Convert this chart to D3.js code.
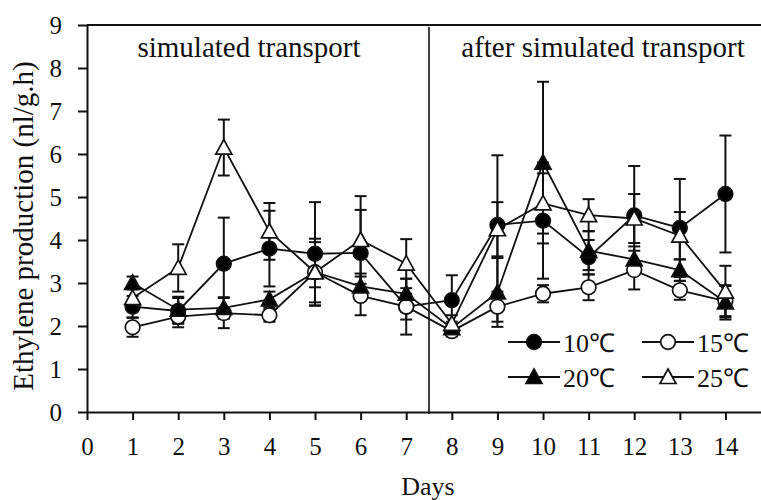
<!DOCTYPE html>
<html>
<head>
<meta charset="utf-8">
<script src="https://d3js.org/d3.v7.min.js"></script>
<style>
    html, body { margin: 0; padding: 0; background: white; }
    svg { display: block; font-family: "Liberation Serif", "Times New Roman", serif; }
    text { fill: #111; }
</style>
</head>
<body>
<svg id="chart" width="761" height="500"></svg>
<script>
    // days 1..14
    var days = [1, 2, 3, 4, 5, 6, 7, 8, 9, 10, 11, 12, 13, 14];
    var xTicks = [0, 1, 2, 3, 4, 5, 6, 7, 8, 9, 10, 11, 12, 13, 14];
    var yTicks = [0, 1, 2, 3, 4, 5, 6, 7, 8, 9];

    var t10 = [2.45, 2.35, 3.45, 3.80, 3.68, 3.70, 2.45, 2.60, 4.35, 4.45, 3.60, 4.57, 4.28, 5.07];
    var t10err = [0.25, 0.30, 1.07, 0.88, 1.20, 1.00, 0.65, 0.58, 1.62, 1.35, 0.40, 1.15, 1.14, 1.36];
    var t15 = [1.97, 2.22, 2.30, 2.25, 3.25, 2.70, 2.45, 1.88, 2.45, 2.75, 2.90, 3.30, 2.83, 2.58];
    var t15err = [0.22, 0.25, 0.35, 0.15, 0.35, 0.45, 0.30, 0.12, 0.35, 0.20, 0.30, 0.45, 0.22, 0.35];
    var t20 = [3.00, 2.38, 2.42, 2.62, 3.25, 2.92, 2.75, 1.95, 2.78, 5.80, 3.75, 3.55, 3.30, 2.55];
    var t20err = [0.15, 0.30, 0.25, 0.18, 0.78, 0.30, 0.35, 0.15, 0.80, 1.88, 0.45, 0.30, 0.25, 0.40];
    var t25 = [2.65, 3.35, 6.15, 4.20, 3.25, 4.00, 3.45, 2.05, 4.25, 4.85, 4.58, 4.50, 4.10, 2.80];
    var t25err = [0.25, 0.55, 0.65, 0.66, 0.70, 1.02, 0.57, 0.20, 0.63, 0.70, 0.37, 0.57, 0.55, 0.60];

    var seriesNames = ["10\u2103", "15\u2103", "20\u2103", "25\u2103"];
    var series = [
        {name: seriesNames[0], vals: t10, err: t10err, shape: "circle", fill: "black"},
        {name: seriesNames[1], vals: t15, err: t15err, shape: "circle", fill: "white"},
        {name: seriesNames[2], vals: t20, err: t20err, shape: "triangle", fill: "black"},
        {name: seriesNames[3], vals: t25, err: t25err, shape: "triangle", fill: "white"}
    ];

    var svg = d3.select("#chart");
    var plotLeft = 87, plotRight = 761, plotTop = 25, plotBottom = 412;

    var x = d3.scaleLinear().domain([0, 14.78]).range([plotLeft, plotRight]);
    var y = d3.scaleLinear().domain([0, 9]).range([plotBottom, plotTop]);

    // top border line
    svg.append("line")
        .attr("x1", plotLeft).attr("x2", plotRight)
        .attr("y1", y(9)).attr("y2", y(9))
        .attr("stroke", "#111").attr("stroke-width", 2);

    // axes
    var xAxis = svg.append("g")
        .attr("transform", "translate(0," + plotBottom + ")")
        .call(d3.axisBottom(x).tickValues(xTicks).tickSize(8).tickSizeOuter(0));
    var yAxis = svg.append("g")
        .attr("transform", "translate(" + plotLeft + ",0)")
        .call(d3.axisLeft(y).tickValues(yTicks).tickSize(9).tickPadding(16).tickSizeOuter(0));

    [xAxis, yAxis].forEach(function (a) {
        a.attr("font-family", "'Liberation Serif', serif");
        a.select(".domain").attr("stroke", "#111").attr("stroke-width", 2);
        a.selectAll(".tick line").attr("stroke", "#111").attr("stroke-width", 2);
        a.selectAll(".tick text")
            .attr("font-size", 25).attr("fill", "#111");
    });
    xAxis.selectAll(".tick text").attr("y", 43).attr("dy", 0);
    yAxis.selectAll(".tick text").attr("dy", "0.34em");

    // divider between periods
    svg.append("line")
        .attr("x1", x(7.5)).attr("x2", x(7.5))
        .attr("y1", y(9) + 2).attr("y2", plotBottom + 2)
        .attr("stroke", "#111").attr("stroke-width", 1.6);

    // period titles
    svg.append("text").attr("x", 249).attr("y", 57)
        .attr("text-anchor", "middle").attr("font-size", 29)
        .text("simulated transport");
    svg.append("text").attr("x", 603).attr("y", 57)
        .attr("text-anchor", "middle").attr("font-size", 29)
        .text("after simulated transport");

    // axis titles
    svg.append("text").attr("x", 428).attr("y", 495)
        .attr("text-anchor", "middle").attr("font-size", 26)
        .text("Days");
    svg.append("text")
        .attr("transform", "translate(33,226) rotate(-90)")
        .attr("text-anchor", "middle").attr("font-size", 29)
        .text("Ethylene production (nl/g.h)");

    var line = d3.line()
        .x(function (d, i) { return x(days[i]); })
        .y(function (d) { return y(d); });

    function drawMarker (g, shape, fill) {
        if (shape === "circle") {
            g.append("circle").attr("r", 7.3)
                .attr("fill", fill).attr("stroke", "#111").attr("stroke-width", 1.7);
        } else {
            g.append("path").attr("d", "M0,-8 L8,6.5 L-8,6.5 Z")
                .attr("fill", fill).attr("stroke", "#111").attr("stroke-width", 1.7);
        }
    }

    // lines first
    series.forEach(function (s) {
        svg.append("path").datum(s.vals)
            .attr("d", line)
            .attr("fill", "none").attr("stroke", "#111").attr("stroke-width", 1.8);
    });

    // error bars
    series.forEach(function (s) {
        var eb = svg.append("g").selectAll("g").data(s.vals).enter().append("g");
        eb.append("line")
            .attr("x1", function (d, i) { return x(days[i]); })
            .attr("x2", function (d, i) { return x(days[i]); })
            .attr("y1", function (d, i) { return y(d - s.err[i]); })
            .attr("y2", function (d, i) { return y(d + s.err[i]); })
            .attr("stroke", "#111").attr("stroke-width", 2);
        [-1, 1].forEach(function (sign) {
            eb.append("line")
                .attr("x1", function (d, i) { return x(days[i]) - 6; })
                .attr("x2", function (d, i) { return x(days[i]) + 6; })
                .attr("y1", function (d, i) { return y(d + sign * s.err[i]); })
                .attr("y2", function (d, i) { return y(d + sign * s.err[i]); })
                .attr("stroke", "#111").attr("stroke-width", 2);
        });
    });

    // markers
    series.forEach(function (s) {
        var m = svg.append("g").selectAll("g").data(s.vals).enter().append("g")
            .attr("transform", function (d, i) { return "translate(" + x(days[i]) + "," + y(d) + ")"; });
        drawMarker(m, s.shape, s.fill);
    });

    // legend
    var legendPos = [[508, 342], [642, 342], [508, 377], [642, 377]];
    series.forEach(function (s, i) {
        var g = svg.append("g").attr("transform", "translate(" + legendPos[i][0] + "," + legendPos[i][1] + ")");
        g.append("line").attr("x1", 0).attr("x2", 52).attr("y1", 0).attr("y2", 0)
            .attr("stroke", "#111").attr("stroke-width", 1.8);
        var mk = g.append("g").attr("transform", "translate(26,0)");
        drawMarker(mk, s.shape, s.fill);
        g.append("text").attr("x", 55).attr("y", 10).attr("font-size", 26).text(s.name);
    });
</script>
</body>
</html>
